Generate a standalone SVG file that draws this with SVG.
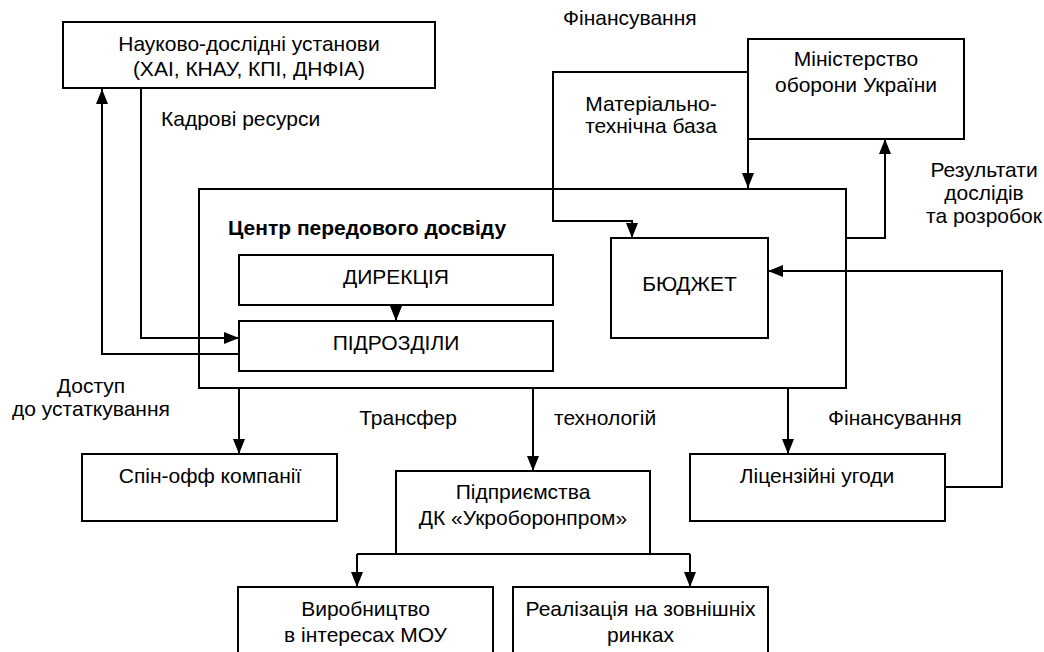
<svg xmlns="http://www.w3.org/2000/svg" width="1044" height="652" viewBox="0 0 1044 652">
<style>
.box{fill:#fff;stroke:#000;stroke-width:2}
.ln{fill:none;stroke:#000;stroke-width:2}
.ar{fill:none;stroke:#000;stroke-width:2;marker-end:url(#ah)}
text{font-family:"Liberation Sans",Arial,sans-serif;font-size:21px;fill:#000}
.c{text-anchor:middle}
.b{font-weight:bold}
</style>
<defs>
<marker id="ah" viewBox="0 0 15 12" refX="15" refY="6" markerWidth="15" markerHeight="12" markerUnits="userSpaceOnUse" orient="auto">
<path d="M0,0 L15,6 L0,12 z" fill="#000"/>
</marker>
</defs>
<rect width="1044" height="652" fill="#fff"/>
<g id="centre">
<rect class="box" x="199" y="189" width="647" height="199"/>
<text class="b" x="228" y="235">Центр передового досвіду</text>
</g>
<g id="connectors">
<path class="ar" d="M239,354 L102,354 L102,89"/>
<path class="ar" d="M141,89 L141,338 L239,338"/>
<path class="ar" d="M396,305 L396,321"/>
<path class="ar" d="M748,72 L553,72 L553,221 L632,221 L632,238"/>
<path class="ar" d="M748,139 L748,188"/>
<path class="ar" d="M846,238 L885,238 L885,139"/>
<path class="ar" d="M945,487 L1002,487 L1002,271 L768,271"/>
<path class="ar" d="M239,388 L239,454"/>
<path class="ar" d="M533,388 L533,471"/>
<path class="ar" d="M788,388 L788,454"/>
<path class="ln" d="M357,554 L690,554"/>
<path class="ar" d="M357,554 L357,587"/>
<path class="ar" d="M690,554 L690,587"/>
</g>
<g id="labels">
<text x="563" y="25">Фінансування</text>
<text x="161" y="126">Кадрові ресурси</text>
<text class="c" x="651" y="111">Матеріально-</text>
<text class="c" x="651" y="133">технічна база</text>
<text class="c" x="984" y="177">Результати</text>
<text class="c" x="984" y="200">дослідів</text>
<text class="c" x="984" y="223">та розробок</text>
<text class="c" x="91" y="393">Доступ</text>
<text class="c" x="91" y="416">до устаткування</text>
<text class="c" x="408" y="425">Трансфер</text>
<text x="554" y="425">технологій</text>
<text x="828" y="425">Фінансування</text>
</g>
<g id="research">
<rect class="box" x="63" y="22" width="372" height="66"/>
<text class="c" x="249" y="51">Науково-дослідні установи</text>
<text class="c" x="249" y="76">(ХАІ, КНАУ, КПІ, ДНФІА)</text>
</g>
<g id="ministry">
<rect class="box" x="748" y="39" width="216" height="100"/>
<text class="c" x="856" y="66">Міністерство</text>
<text class="c" x="856" y="92">оборони України</text>
</g>
<g id="budget">
<rect class="box" x="611" y="238" width="157" height="100"/>
<text class="c" x="689.5" y="291">БЮДЖЕТ</text>
</g>
<g id="direction">
<rect class="box" x="239" y="255" width="314" height="50"/>
<text class="c" x="396" y="284">ДИРЕКЦІЯ</text>
</g>
<g id="subdivisions">
<rect class="box" x="239" y="321" width="314" height="50"/>
<text class="c" x="396" y="350">ПІДРОЗДІЛИ</text>
</g>
<g id="spinoff">
<rect class="box" x="82" y="454" width="255" height="67"/>
<text class="c" x="210" y="483">Спін-офф компанії</text>
</g>
<g id="licence">
<rect class="box" x="690" y="454" width="255" height="67"/>
<text class="c" x="817" y="483">Ліцензійні угоди</text>
</g>
<g id="enterprises">
<rect class="box" x="396" y="471" width="254" height="83"/>
<text class="c" x="523" y="499">Підприємства</text>
<text class="c" x="523" y="525">ДК «Укроборонпром»</text>
</g>
<g id="production">
<rect class="box" x="238" y="587" width="255" height="75"/>
<text class="c" x="365.5" y="616">Виробництво</text>
<text class="c" x="365.5" y="642">в інтересах МОУ</text>
</g>
<g id="markets">
<rect class="box" x="513" y="587" width="255" height="75"/>
<text class="c" x="640.5" y="616">Реалізація на зовнішніх</text>
<text class="c" x="640.5" y="642">ринках</text>
</g>
</svg>
